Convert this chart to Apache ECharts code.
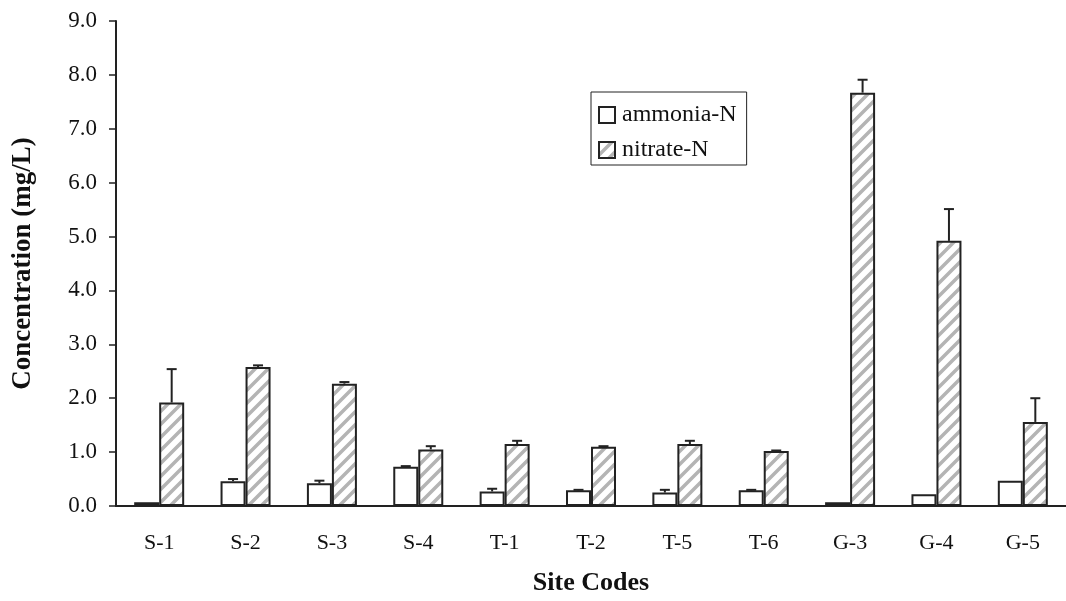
<!DOCTYPE html>
<html>
<head>
<meta charset="utf-8">
<script src="https://cdn.jsdelivr.net/npm/echarts@6/dist/echarts.min.js"></script>
<style>
  html, body { margin: 0; padding: 0; background: #fff; }
  #chart { width: 1066px; height: 601px; }
</style>
</head>
<body>
<div id="chart"></div>
<script>
const sites = ['S-1', 'S-2', 'S-3', 'S-4', 'T-1', 'T-2', 'T-5', 'T-6', 'G-3', 'G-4', 'G-5']
const ammonia = [0.07, 0.46, 0.42, 0.73, 0.27, 0.29, 0.25, 0.29, 0.07, 0.22, 0.47]
const ammoniaErr = [0, 0.04, 0.05, 0.01, 0.05, 0.01, 0.05, 0.01, 0, 0, 0]
const nitrate = [1.92, 2.58, 2.27, 1.05, 1.15, 1.10, 1.15, 1.02, 7.67, 4.92, 1.56]
const nitrateErr = [0.62, 0.03, 0.03, 0.06, 0.06, 0.01, 0.06, 0.01, 0.24, 0.59, 0.44]

const serif = "'Liberation Serif', 'Times New Roman', serif"
const ink = '#222'

// diagonal hatch for the nitrate bars
const makeHatch = () => {
  const size = 13
  const c = document.createElement('canvas')
  c.width = size
  c.height = size
  const ctx = c.getContext('2d')
  ctx.fillStyle = '#fff'
  ctx.fillRect(0, 0, size, size)
  ctx.strokeStyle = '#b4b4b4'
  ctx.lineWidth = 3.5
  ctx.beginPath()
  ctx.moveTo(-2, size + 2); ctx.lineTo(size + 2, -2)
  ctx.moveTo(-2, 2); ctx.lineTo(2, -2)
  ctx.moveTo(size - 2, size + 2); ctx.lineTo(size + 2, size - 2)
  ctx.stroke()
  return c
}

const errorBar = offset => (params, api) => {
  const err = api.value(2)
  if (!err) return
  const idx = api.value(0)
  const val = api.value(1)
  const base = api.coord([idx, val])
  const top = api.coord([idx, val + err])
  const x = base[0] + offset
  const style = { stroke: ink, lineWidth: 2 }
  return {
    type: 'group',
    children: [
      { type: 'line', shape: { x1: x, y1: base[1], x2: x, y2: top[1] }, style },
      { type: 'line', shape: { x1: x - 5, y1: top[1], x2: x + 5, y2: top[1] }, style }
    ]
  }
}

const chart = echarts.init(document.getElementById('chart'))

chart.setOption({
  animation: false,
  backgroundColor: '#fff',
  grid: { left: 116, top: 21, bottom: 88, width: 953 },
  legend: {
    data: ['ammonia-N', 'nitrate-N'],
    orient: 'vertical',
    left: 591,
    top: 92,
    padding: [11, 10, 3, 7],
    itemGap: 11,
    itemWidth: 16,
    itemHeight: 16,
    borderColor: ink,
    borderWidth: 1,
    icon: 'rect',
    textStyle: { fontFamily: serif, fontSize: 24, color: '#111', padding: [0, 0, 0, 2] }
  },
  xAxis: {
    type: 'category',
    data: sites,
    name: 'Site Codes',
    nameLocation: 'middle',
    nameGap: 64,
    nameTextStyle: { fontFamily: serif, fontSize: 26, fontWeight: 'bold', color: '#111' },
    axisLine: { lineStyle: { color: ink, width: 2 } },
    axisTick: { length: 7, lineStyle: { color: ink, width: 1.5 } },
    axisLabel: { margin: 26, fontFamily: serif, fontSize: 22, color: '#111', interval: 0 }
  },
  yAxis: {
    type: 'value',
    min: 0,
    max: 9,
    interval: 1,
    name: 'Concentration (mg/L)',
    nameLocation: 'middle',
    nameGap: 79,
    nameTextStyle: { fontFamily: serif, fontSize: 27, fontWeight: 'bold', color: '#111' },
    axisLine: { show: true, lineStyle: { color: ink, width: 2 } },
    axisTick: { show: true, length: 7, lineStyle: { color: ink, width: 1.5 } },
    axisLabel: { margin: 19, fontFamily: serif, fontSize: 23, color: '#111', formatter: v => v.toFixed(1) },
    splitLine: { show: false }
  },
  series: [
    {
      name: 'ammonia-N',
      type: 'bar',
      data: ammonia,
      barWidth: 25,
      barGap: '0%',
      itemStyle: { color: '#fff', borderColor: ink, borderWidth: 2 }
    },
    {
      name: 'nitrate-N',
      type: 'bar',
      data: nitrate,
      barWidth: 25,
      barGap: '0%',
      itemStyle: { color: { image: makeHatch(), repeat: 'repeat' }, borderColor: ink, borderWidth: 2 }
    },
    {
      type: 'custom',
      renderItem: errorBar(-12.5),
      data: ammonia.map((v, i) => [i, v, ammoniaErr[i]]),
      encode: { x: 0, y: 1 },
      z: 5,
      silent: true
    },
    {
      type: 'custom',
      renderItem: errorBar(12.5),
      data: nitrate.map((v, i) => [i, v, nitrateErr[i]]),
      encode: { x: 0, y: 1 },
      z: 5,
      silent: true
    }
  ]
})
</script>
</body>
</html>
